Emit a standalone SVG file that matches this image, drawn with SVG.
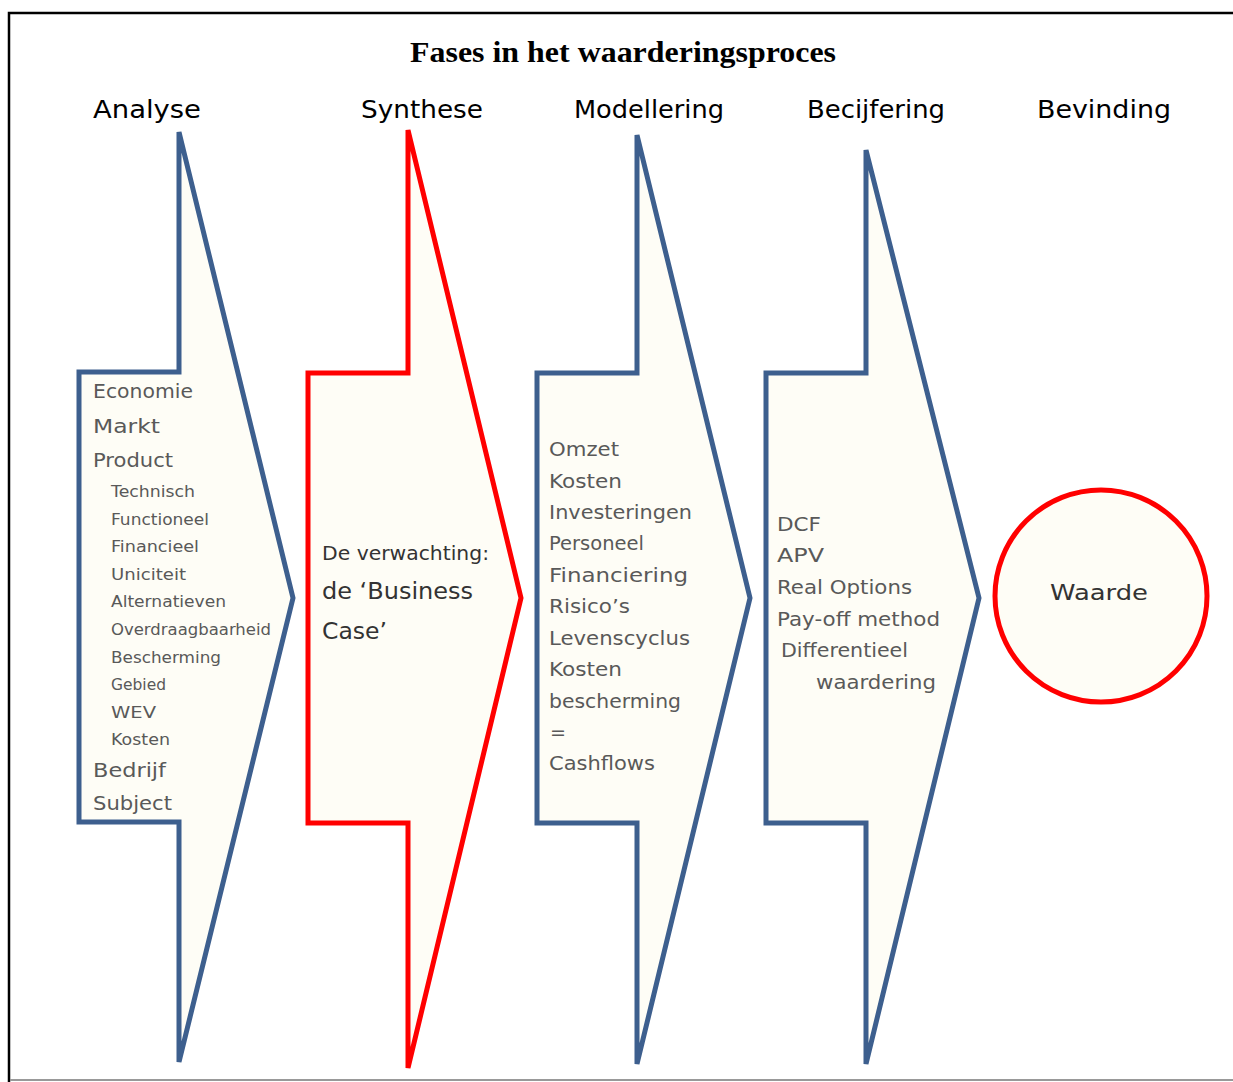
<svg xmlns="http://www.w3.org/2000/svg" width="1233" height="1082" viewBox="0 0 1233 1082">
<style>
.frame{fill:none;stroke:#000;stroke-width:2.5}
.arrow{fill:#FEFDF6;stroke:#3D5F8E;stroke-width:5;stroke-linejoin:miter}
.red{stroke:#FF0000}
.title{font-family:"Liberation Serif",serif;font-weight:bold;font-size:29px;fill:#000}
.hd{font-family:"Segoe Print","DejaVu Sans",sans-serif;font-size:25px;fill:#000}
.t{font-family:"Segoe Print","DejaVu Sans",sans-serif;fill:#595959}
.l{font-size:19px}
.s{font-size:15px}
.b{font-size:22px;fill:#333}
</style>
<rect x="0" y="0" width="1233" height="1082" fill="#fff"/>
<path class="frame" d="M1233,13 H9 V1082"/>
<line x1="10" y1="1080" x2="1233" y2="1080" stroke="#999" stroke-width="2"/>
<text class="title" x="410" y="62" textLength="426" lengthAdjust="spacingAndGlyphs">Fases in het waarderingsproces</text>

<g id="headers">
<text class="hd" x="93" y="118" textLength="108" lengthAdjust="spacingAndGlyphs">Analyse</text>
<text class="hd" x="361" y="118" textLength="122" lengthAdjust="spacingAndGlyphs">Synthese</text>
<text class="hd" x="574" y="118" textLength="150" lengthAdjust="spacingAndGlyphs">Modellering</text>
<text class="hd" x="807" y="118" textLength="138" lengthAdjust="spacingAndGlyphs">Becijfering</text>
<text class="hd" x="1037" y="118" textLength="134" lengthAdjust="spacingAndGlyphs">Bevinding</text>
</g>

<g id="analyse">
<polygon class="arrow" points="179,132 293,598 179,1062 179,822 79,822 79,372 179,372"/>
<g class="t">
<text class="l" x="93" y="398" textLength="100" lengthAdjust="spacingAndGlyphs">Economie</text>
<text class="l" x="93" y="433" textLength="67" lengthAdjust="spacingAndGlyphs">Markt</text>
<text class="l" x="93" y="467" textLength="80" lengthAdjust="spacingAndGlyphs">Product</text>
<text class="s" x="111" y="497" textLength="84" lengthAdjust="spacingAndGlyphs">Technisch</text>
<text class="s" x="111" y="525" textLength="98" lengthAdjust="spacingAndGlyphs">Functioneel</text>
<text class="s" x="111" y="552" textLength="88" lengthAdjust="spacingAndGlyphs">Financieel</text>
<text class="s" x="111" y="580" textLength="75" lengthAdjust="spacingAndGlyphs">Uniciteit</text>
<text class="s" x="111" y="607" textLength="115" lengthAdjust="spacingAndGlyphs">Alternatieven</text>
<text class="s" x="111" y="635" textLength="160" lengthAdjust="spacingAndGlyphs">Overdraagbaarheid</text>
<text class="s" x="111" y="663" textLength="110" lengthAdjust="spacingAndGlyphs">Bescherming</text>
<text class="s" x="111" y="690" textLength="55" lengthAdjust="spacingAndGlyphs">Gebied</text>
<text class="s" x="111" y="718" textLength="45" lengthAdjust="spacingAndGlyphs">WEV</text>
<text class="s" x="111" y="745" textLength="59" lengthAdjust="spacingAndGlyphs">Kosten</text>
<text class="l" x="93" y="777" textLength="73" lengthAdjust="spacingAndGlyphs">Bedrijf</text>
<text class="l" x="93" y="810" textLength="79" lengthAdjust="spacingAndGlyphs">Subject</text>
</g>
</g>

<g id="synthese">
<polygon class="arrow red" points="408,130 521,598 408,1068 408,823 308,823 308,373 408,373"/>
<g class="t">
<text class="l" x="322" y="560" fill="#333" textLength="167" lengthAdjust="spacingAndGlyphs">De verwachting:</text>
<text x="322" y="599" font-size="23" fill="#333" textLength="151" lengthAdjust="spacingAndGlyphs">de ‘Business</text>
<text x="322" y="639" font-size="23" fill="#333" textLength="65" lengthAdjust="spacingAndGlyphs">Case’</text>
</g>
</g>

<g id="modellering">
<polygon class="arrow" points="637,135 750,598 637,1064 637,823 537,823 537,373 637,373"/>
<g class="t">
<text class="l" x="549" y="456" textLength="70" lengthAdjust="spacingAndGlyphs">Omzet</text>
<text class="l" x="549" y="488" textLength="73" lengthAdjust="spacingAndGlyphs">Kosten</text>
<text class="l" x="549" y="519" textLength="143" lengthAdjust="spacingAndGlyphs">Investeringen</text>
<text class="l" x="549" y="550" textLength="95" lengthAdjust="spacingAndGlyphs">Personeel</text>
<text class="l" x="549" y="582" textLength="139" lengthAdjust="spacingAndGlyphs">Financiering</text>
<text class="l" x="549" y="613" textLength="81" lengthAdjust="spacingAndGlyphs">Risico’s</text>
<text class="l" x="549" y="645" textLength="141" lengthAdjust="spacingAndGlyphs">Levenscyclus</text>
<text class="l" x="549" y="676" textLength="73" lengthAdjust="spacingAndGlyphs">Kosten</text>
<text class="l" x="549" y="708" textLength="132" lengthAdjust="spacingAndGlyphs">bescherming</text>
<text class="l" x="550" y="739" textLength="16" lengthAdjust="spacingAndGlyphs">=</text>
<text class="l" x="549" y="770" textLength="106" lengthAdjust="spacingAndGlyphs">Cashflows</text>
</g>
</g>

<g id="becijfering">
<polygon class="arrow" points="866,150 979,598 866,1064 866,823 766,823 766,373 866,373"/>
<g class="t">
<text class="l" x="777" y="531" textLength="44" lengthAdjust="spacingAndGlyphs">DCF</text>
<text class="l" x="777" y="562" textLength="47" lengthAdjust="spacingAndGlyphs">APV</text>
<text class="l" x="777" y="594" textLength="135" lengthAdjust="spacingAndGlyphs">Real Options</text>
<text class="l" x="777" y="626" textLength="163" lengthAdjust="spacingAndGlyphs">Pay-off method</text>
<text class="l" x="781" y="657" textLength="127" lengthAdjust="spacingAndGlyphs">Differentieel</text>
<text class="l" x="816" y="689" textLength="120" lengthAdjust="spacingAndGlyphs">waardering</text>
</g>
</g>

<g id="bevinding">
<circle cx="1101" cy="596" r="106" fill="#FEFDF6" stroke="#FF0000" stroke-width="5"/>
<text class="t b" x="1050" y="600" textLength="98" lengthAdjust="spacingAndGlyphs">Waarde</text>
</g>

<g id="connectors"></g>
</svg>
